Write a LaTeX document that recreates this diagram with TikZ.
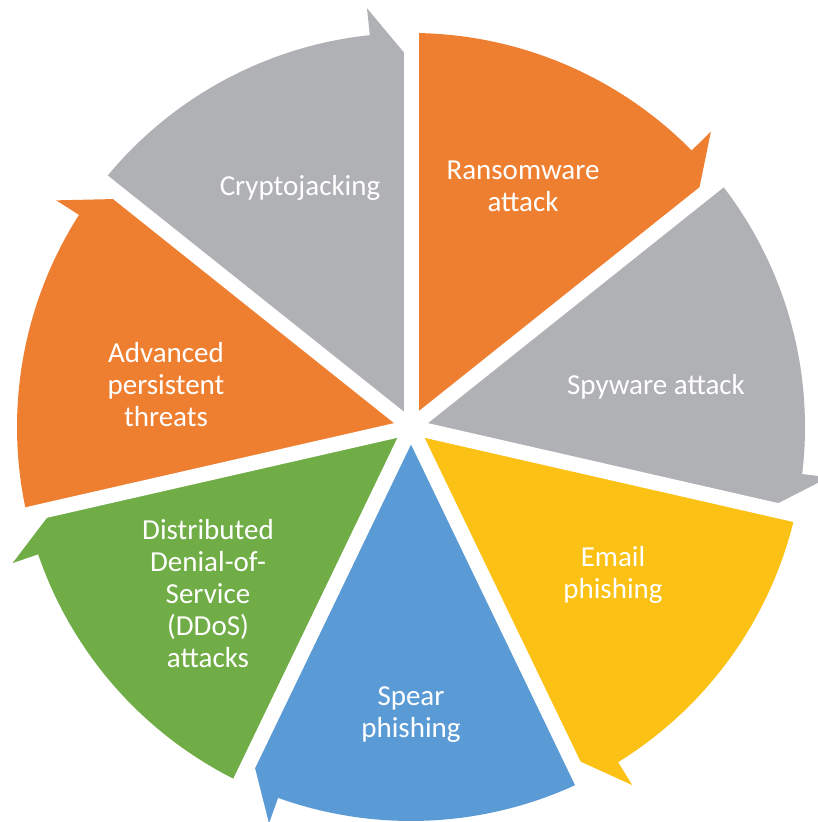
\documentclass[tikz,border=0pt]{standalone}
\usepackage{fontspec}
\setmainfont{Carlito}
\usepackage{tikz}
\usepackage{xcolor}
\definecolor{cycle-orange}{HTML}{EE7F31}
\definecolor{cycle-gray}{HTML}{B0B1B5}
\definecolor{cycle-yellow}{HTML}{FBC115}
\definecolor{cycle-blue}{HTML}{5B9BD5}
\definecolor{cycle-green}{HTML}{70AD47}
\tikzset{
    cycle-label/.style = {text=white, align=center, font=\fontsize{14.5}{16}\selectfont},
    cycle-gap/.style = {draw=white, line width=7.5pt},
}
% one piece of the ring: colour, start angle, end angle (clockwise)
\newcommand{\cyclewedge}[3]{%
    \fill[#1] (0,0) -- (#2:394) arc[start angle=#2, end angle=#3+6, radius=394]
        -- (#3+6:421) -- (#3:366) -- cycle;
}

\begin{document}
\begin{tikzpicture}[x=0.5pt, y=0.5pt]
\useasboundingbox (0,0) rectangle (817,822);

\begin{scope}[shift={(411,395)}]
\cyclewedge{cycle-orange}{90}{38.571}
\cyclewedge{cycle-gray}{38.571}{-12.857}
\cyclewedge{cycle-yellow}{-12.857}{-64.286}
\cyclewedge{cycle-blue}{-64.286}{-115.714}
\cyclewedge{cycle-green}{-115.714}{-167.143}
\cyclewedge{cycle-orange}{192.857}{141.429}
\cyclewedge{cycle-gray}{141.429}{90}
% white gaps between the pieces
\coordinate (hub) at (0,0);
\draw[cycle-gap] (hub) -- (90:450);
\draw[cycle-gap] (hub) -- (38.571:450);
\draw[cycle-gap] (hub) -- (-12.857:450);
\draw[cycle-gap] (hub) -- (-64.286:450);
\draw[cycle-gap] (hub) -- (-115.714:450);
\draw[cycle-gap] (hub) -- (-167.143:450);
\draw[cycle-gap] (hub) -- (141.429:450);
\end{scope}

\node[cycle-label] (ransomware) at (523,636) {Ransomware\\attack};
\node[cycle-label] (spyware) at (656,435) {Spyware attack};
\node[cycle-label] (email) at (613,247) {Email\\phishing};
\node[cycle-label] (spear) at (411,107) {Spear\\phishing};
\node[cycle-label] (ddos) at (208,228) {Distributed\\Denial-of-\\Service\\(DDoS)\\attacks};
\node[cycle-label] (apt) at (166,437) {Advanced\\persistent\\threats};
\node[cycle-label] (crypto) at (300,634) {Cryptojacking};
\end{tikzpicture}
\end{document}
